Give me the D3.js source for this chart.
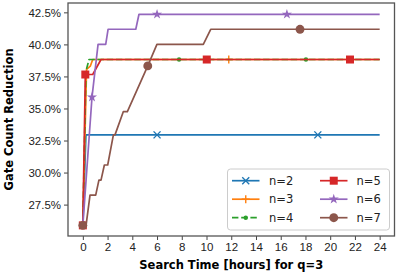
<!DOCTYPE html>
<html>
<head>
<meta charset="utf-8">
<script src="https://cdn.jsdelivr.net/npm/d3@7"></script>
<style>
  body { margin: 0; background: #fff; }
  svg { display: block; font-family: "DejaVu Sans", sans-serif; }
</style>
</head>
<body>
<div id="chart"></div>
<script>
"use strict";

// Series labels and colours (matplotlib tab10)
const seriesNames = ["n=2", "n=3", "n=4", "n=5", "n=6", "n=7"];
const seriesColors = ["#1f77b4", "#ff7f0e", "#2ca02c", "#d62728", "#9467bd", "#8c564b"];
const seriesMarkers = ["x", "plus", "point", "square", "star", "circle"];

// [search time in hours, gate count reduction in %]
const n2Points = [[0, 25.88], [0.25, 32.94], [6.0, 32.94], [19.0, 32.94], [24, 32.94]];
const n3Points = [[0, 25.88], [0.3, 38.05], [0.6, 38.3], [0.8, 38.82], [11.8, 38.82], [24, 38.82]];
const n4Points = [[0, 25.88], [0.25, 37.9], [0.5, 38.82], [7.78, 38.82], [18.04, 38.82], [24, 38.82]];
const n5Points = [[0, 25.88], [0.2, 37.65], [0.8, 37.65], [1.47, 38.82], [10.02, 38.82], [21.6, 38.82], [24, 38.82]];
const n6Points = [[0, 25.88], [0.74, 35.88], [1.23, 40.0], [1.85, 40.0], [2.04, 41.18], [4.28, 41.18],
    [4.54, 42.35], [6.0, 42.35], [16.5, 42.35], [24, 42.35]];
const n7Points = [[0, 25.88], [0.26, 25.88], [0.58, 28.24], [1.04, 28.24], [1.3, 29.41], [1.47, 29.41],
    [1.74, 30.59], [2.01, 30.59], [2.47, 32.94], [2.6, 32.94], [3.27, 34.75], [3.6, 34.75],
    [5.25, 38.32], [5.99, 40.0], [9.74, 40.0], [10.34, 41.18], [17.56, 41.18], [24, 41.18]];

// indices of the points that carry a marker
const n2Marks = [2, 3];
const n3Marks = [4];
const n4Marks = [3, 4];
const n5Marks = [0, 1, 4, 5];
const n6Marks = [1, 7, 8];
const n7Marks = [0, 12, 16];

const xTicks = d3.range(0, 25, 2);
const yTicks = [27.5, 30.0, 32.5, 35.0, 37.5, 40.0, 42.5];

const allPoints = [n2Points, n3Points, n4Points, n5Points, n6Points, n7Points];
const allMarks = [n2Marks, n3Marks, n4Marks, n5Marks, n6Marks, n7Marks];

const width = 399, height = 276;
const margin = { left: 68, right: 4.5, top: 3, bottom: 40 };

const svg = d3.select("#chart").append("svg")
    .attr("width", width)
    .attr("height", height);

const x = d3.scaleLinear().domain([-1.2, 25.2]).range([margin.left, width - margin.right]);
const y = d3.scaleLinear().domain([25.05, 43.23]).range([height - margin.bottom, margin.top]);

// Axes
const xAxis = svg.append("g")
    .attr("transform", `translate(0,${height - margin.bottom})`)
    .call(d3.axisBottom(x).tickValues(xTicks).tickSize(4).tickPadding(3).tickFormat(d3.format("d")));
const yAxis = svg.append("g")
    .attr("transform", `translate(${margin.left},0)`)
    .call(d3.axisLeft(y).tickValues(yTicks).tickSize(4).tickPadding(3).tickFormat(d => d.toFixed(1) + "%"));

[xAxis, yAxis].forEach(ax => {
    ax.select(".domain").remove();
    ax.selectAll(".tick line").attr("stroke", "#444").attr("stroke-width", 1);
    ax.selectAll(".tick text").attr("fill", "#222").style("font-size", "11.5px");
});

// Frame
svg.append("rect")
    .attr("x", margin.left).attr("y", margin.top)
    .attr("width", width - margin.right - margin.left)
    .attr("height", height - margin.bottom - margin.top)
    .attr("fill", "none").attr("stroke", "#555").attr("stroke-width", 1.3);

// Axis labels
svg.append("text")
    .attr("x", (margin.left + width - margin.right) / 2)
    .attr("y", 269)
    .attr("text-anchor", "middle")
    .style("font-size", "11.5px").style("font-weight", "bold")
    .text("Search Time [hours] for q=3");

svg.append("text")
    .attr("transform", `translate(13,${(margin.top + height - margin.bottom) / 2}) rotate(-90)`)
    .attr("text-anchor", "middle")
    .style("font-size", "11.5px").style("font-weight", "bold")
    .text("Gate Count Reduction");

// Marker drawing helper
function drawMarker(g, kind, color, cx, cy) {
    if (kind === "x") {
        g.append("path").attr("d", `M${cx - 3.5},${cy - 3.5}L${cx + 3.5},${cy + 3.5}M${cx - 3.5},${cy + 3.5}L${cx + 3.5},${cy - 3.5}`)
            .attr("stroke", color).attr("stroke-width", 1.4).attr("fill", "none");
    } else if (kind === "plus") {
        g.append("path").attr("d", `M${cx - 4},${cy}L${cx + 4},${cy}M${cx},${cy - 4}L${cx},${cy + 4}`)
            .attr("stroke", color).attr("stroke-width", 1.4).attr("fill", "none");
    } else if (kind === "point") {
        g.append("circle").attr("cx", cx).attr("cy", cy).attr("r", 2.2).attr("fill", color);
    } else {
        const type = kind === "square" ? d3.symbolSquare : kind === "star" ? d3.symbolStar : d3.symbolCircle;
        const size = kind === "square" ? 64 : kind === "star" ? 32 : 62;
        g.append("path").attr("d", d3.symbol().type(type).size(size)())
            .attr("transform", `translate(${cx},${cy})`)
            .attr("fill", color);
    }
}

const line = d3.line().x(d => x(d[0])).y(d => y(d[1]));
const plot = svg.append("g");

allPoints.forEach((pts, i) => {
    const g = plot.append("g");
    g.append("path")
        .datum(pts)
        .attr("d", line)
        .attr("fill", "none")
        .attr("stroke", seriesColors[i])
        .attr("stroke-width", 1.7)
        .attr("stroke-dasharray", i === 2 ? "6.4,2.8" : null)
        .attr("stroke-linejoin", "round");
    allMarks[i].forEach(k => drawMarker(g, seriesMarkers[i], seriesColors[i], x(pts[k][0]), y(pts[k][1])));
});

// Legend
const legend = svg.append("g");
legend.append("rect")
    .attr("x", 227.5).attr("y", 169).attr("width", 162).attr("height", 61)
    .attr("rx", 3).attr("fill", "#fff").attr("fill-opacity", 0.8)
    .attr("stroke", "#ccc").attr("stroke-width", 1);

seriesNames.forEach((name, i) => {
    const col = Math.floor(i / 3), row = i % 3;
    const hx = col === 0 ? 232 : 320;
    const ly = 180.7 + row * 18.5;
    legend.append("line")
        .attr("x1", hx).attr("x2", hx + 27.5).attr("y1", ly).attr("y2", ly)
        .attr("stroke", seriesColors[i]).attr("stroke-width", 1.7)
        .attr("stroke-dasharray", i === 2 ? "6.4,2.8" : null);
    drawMarker(legend, seriesMarkers[i], seriesColors[i], hx + 13.75, ly);
    legend.append("text")
        .attr("x", col === 0 ? 269 : 356.5).attr("y", ly + 4)
        .style("font-size", "11.5px").attr("fill", "#222")
        .text(name);
});
</script>
</body>
</html>
